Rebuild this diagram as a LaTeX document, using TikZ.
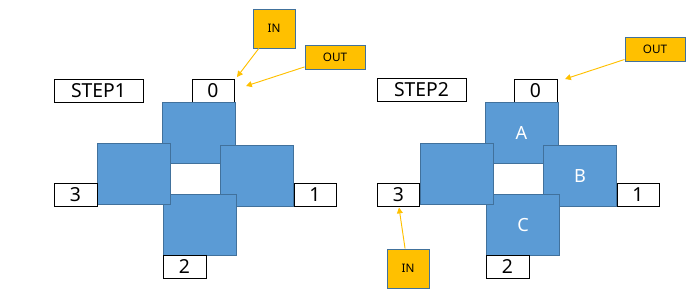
\documentclass[tikz,border=0pt]{standalone}
\usepackage{fontspec}
\setmainfont{Noto Sans}
\usetikzlibrary{arrows.meta}
\definecolor{blockblue}{HTML}{5B9BD5}
\definecolor{blockedge}{HTML}{41719C}
\definecolor{notegold}{HTML}{FFC000}
\tikzset{
  block/.style={draw=blockedge, fill=blockblue, line width=0.8pt, minimum width=2.19cm, minimum height=1.83cm, inner sep=0pt, text=white, font=\fontsize{15.5}{15.5}\selectfont},
  portbox/.style={draw=black, fill=white, line width=0.8pt, minimum width=1.26cm, minimum height=0.69cm, inner sep=0pt, font=\fontsize{16.5}{16.5}\selectfont},
  titlebox/.style={portbox, minimum width=2.67cm},
  note/.style={draw=blockedge, fill=notegold, line width=0.8pt, inner sep=0pt, font=\fontsize{10}{10}\selectfont},
  flow/.style={draw=notegold, line width=0.8pt, -{Triangle[length=5pt,width=5pt]}}
}
\begin{document}
\begin{tikzpicture}[x=0.03cm, y=-0.03cm]
\useasboundingbox (0,0) rectangle (697,296);
% step 1
\node[titlebox] (title1) at (98.5,90.5) {STEP1};
\node[portbox] (p0a) at (213,90.5) {0};
\node[block] (topa) at (198.5,132.75) {};
\node[block] (righta) at (257,176) {};
\node[block] (bottoma) at (200,224.75) {};
\node[block] (lefta) at (133.5,173.75) {};
\node[portbox, minimum width=1.29cm] (p3a) at (75.5,194.5) {3};
\node[portbox] (p1a) at (315,194.5) {1};
\node[portbox, minimum width=1.29cm] (p2a) at (184.5,266.5) {2};
\node[note, minimum width=1.26cm, minimum height=1.17cm] (ina) at (274,28.5) {IN};
\node[note, minimum width=1.8cm, minimum height=0.72cm] (outa) at (335,57) {OUT};
\coordinate (ina tip) at (237,77);
\coordinate (outa tip) at (246,86);
\draw[flow] (ina) -- (ina tip);
\draw[flow] (outa) -- (outa tip);
% step 2
\node[titlebox] (title2) at (421.5,89.5) {STEP2};
\node[portbox, minimum width=1.29cm] (p0b) at (535.5,90.5) {0};
\node[block] (topb) at (521.5,132.75) {A};
\node[block] (rightb) at (580,176) {B};
\node[block] (bottomb) at (523,224.75) {C};
\node[block] (leftb) at (456.5,173.75) {};
\node[portbox] (p3b) at (398.5,194.5) {3};
\node[portbox] (p1b) at (638,194.5) {1};
\node[portbox, minimum width=1.29cm] (p2b) at (507.5,266.5) {2};
\node[note, minimum width=1.8cm, minimum height=0.72cm] (outb) at (655,49.5) {OUT};
\node[note, minimum width=1.26cm, minimum height=1.17cm] (inb) at (408,268.5) {IN};
\coordinate (outb tip) at (565,79);
\coordinate (inb tip) at (399,207.5);
\draw[flow] (outb) -- (outb tip);
\draw[flow] (inb) -- (inb tip);
\end{tikzpicture}
\end{document}
